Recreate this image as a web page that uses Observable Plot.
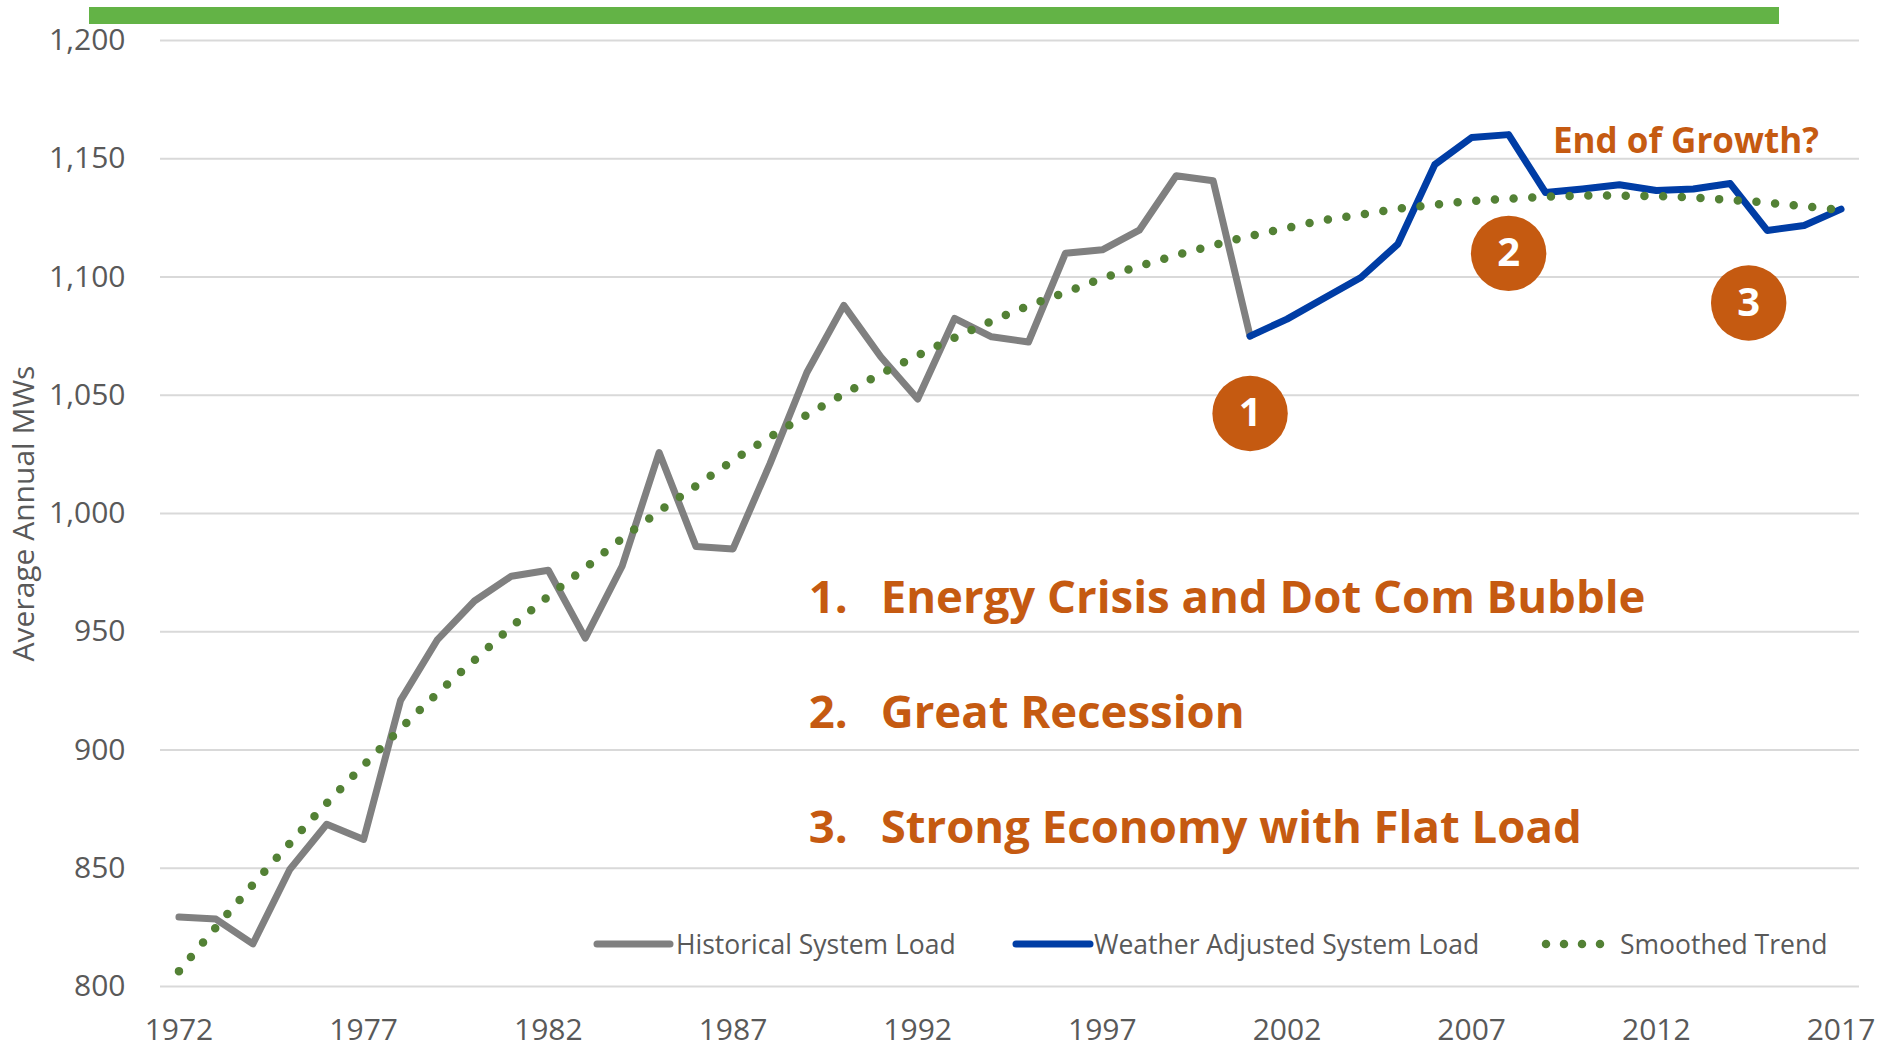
<!DOCTYPE html>
<html>
<head>
<meta charset="utf-8">
<script src="https://cdn.jsdelivr.net/npm/d3@7"></script>
<script src="https://cdn.jsdelivr.net/npm/@observablehq/plot@0.6"></script>
<style>
  html, body { margin: 0; padding: 0; background: #ffffff; }
  #wrap { position: relative; width: 1881px; height: 1050px; font-family: "Open Sans", sans-serif; overflow: hidden; }
  #band { position: absolute; left: 89px; top: 7px; width: 1690px; height: 17px; background: #63b346; }
  #legend { position: absolute; left: 0; top: 0; }
</style>
</head>
<body>
<div id="wrap">
  <div id="chart"></div>
  <div id="band"></div>
  <svg id="legend" width="1881" height="1050"></svg>
</div>
<script>
// ---------- data ----------
const years = [1972,1973,1974,1975,1976,1977,1978,1979,1980,1981,1982,1983,1984,1985,1986,1987,1988,1989,1990,1991,1992,1993,1994,1995,1996,1997,1998,1999,2000,2001,2002,2003,2004,2005,2006,2007,2008,2009,2010,2011,2012,2013,2014,2015,2016,2017];

const historicalYears = [1972,1973,1974,1975,1976,1977,1978,1979,1980,1981,1982,1983,1984,1985,1986,1987,1988,1989,1990,1991,1992,1993,1994,1995,1996,1997,1998,1999,2000,2001];
const historicalLoad = [829.4,828.5,818,849.5,868.6,862.2,921,946.7,963,973.5,976,947.3,977.8,1025.8,986,985,1021,1059.6,1088,1066.3,1048.4,1082.5,1074.7,1072.5,1110,1111.5,1119.8,1142.8,1140.7,1075];

const adjustedYears = [2001,2002,2003,2004,2005,2006,2007,2008,2009,2010,2011,2012,2013,2014,2015,2016,2017];
const adjustedLoad = [1075,1082.2,1091,1099.8,1113.9,1147.5,1159,1160.2,1135.7,1137.2,1139,1136.6,1137.2,1139.5,1119.7,1121.8,1128.7];

const smoothedTrend = [806.5,825,843,860.5,877.5,893.5,909,924,938,952,965,977,989.5,1000.9,1011.7,1022.4,1032.3,1041.7,1050.5,1059,1066.8,1074.3,1081.3,1087.8,1093.5,1099.4,1104.6,1109.2,1113.4,1117.3,1120.7,1124,1126.4,1128.8,1130.6,1132.1,1133.1,1133.9,1134.4,1134.4,1134.2,1133.6,1132.6,1131.4,1129.9,1128.3];

const yTicks = [800,850,900,950,1000,1050,1100,1150,1200];
const xTicks = [1972,1977,1982,1987,1992,1997,2002,2007,2012,2017];

const seriesNames = ["Historical System Load", "Weather Adjusted System Load", "Smoothed Trend"];
const yAxisTitle = "Average Annual MWs";

// annotation callouts (numbered circles)
const calloutLabels = ["1", "2", "3"];
const calloutYears = [2001, 2008, 2014.5];
const calloutValues = [1042.3, 1110, 1089];

const headline = "End of Growth?";
const headlineYear = 2009.2;
const headlineValue = 1157.3;

const listNumbers = ["1.", "2.", "3."];
const listTexts = ["Energy Crisis and Dot Com Bubble", "Great Recession", "Strong Economy with Flat Load"];
const listValues = [964, 915.4, 866.8];
const listNumberYear = 1989.05;
const listTextYear = 1991.0;

// ---------- rows ----------
const histRows = historicalYears.map((d, i) => ({year: d, value: historicalLoad[i]}));
const adjRows = adjustedYears.map((d, i) => ({year: d, value: adjustedLoad[i]}));
const trendRows = years.map((d, i) => ({year: d, value: smoothedTrend[i]}));
const callouts = calloutLabels.map((t, i) => ({label: t, year: calloutYears[i], value: calloutValues[i]}));
const listRows = listTexts.map((t, i) => ({num: listNumbers[i], text: t, value: listValues[i]}));

const ORANGE = "#C55A11";
const GRAY_TXT = "#595959";

const chart = Plot.plot({
  width: 1881,
  height: 1050,
  marginLeft: 160,
  marginRight: 22,
  marginTop: 40,
  marginBottom: 64,
  style: {fontFamily: "'Open Sans', sans-serif", background: "transparent", overflow: "visible"},
  x: {type: "linear", domain: [1971.5, 2017.5]},
  y: {domain: [800, 1200]},
  marks: [
    Plot.gridY(yTicks, {stroke: "#d9d9d9", strokeOpacity: 1, strokeWidth: 2}),
    Plot.axisY(yTicks, {tickSize: 0, tickPadding: 35, tickFormat: d3.format(","), fontSize: 30, fill: GRAY_TXT, label: null}),
    Plot.axisX(xTicks, {tickSize: 0, tickPadding: 32, tickFormat: d => String(d), fontSize: 30, fill: GRAY_TXT, label: null}),
    Plot.text([yAxisTitle], {frameAnchor: "left", textAnchor: "middle", dx: -136, rotate: -90, fontSize: 30, fill: GRAY_TXT}),
    Plot.line(histRows, {x: "year", y: "value", stroke: "#808080", strokeWidth: 7, strokeLinejoin: "round", strokeLinecap: "round"}),
    Plot.line(adjRows, {x: "year", y: "value", stroke: "#003DA5", strokeWidth: 7, strokeLinejoin: "round", strokeLinecap: "round"}),
    Plot.line(trendRows, {x: "year", y: "value", stroke: "#538135", strokeWidth: 8.5, strokeDasharray: "0 18.7", strokeLinecap: "round", curve: "catmull-rom"}),
    Plot.dot(callouts, {x: "year", y: "value", r: 37.7, fill: ORANGE, stroke: null}),
    Plot.text(callouts, {x: "year", y: "value", text: "label", fill: "white", fontWeight: "bold", fontSize: 40}),
    Plot.text([headline], {x: () => headlineYear, y: () => headlineValue, text: d => d, textAnchor: "start", fill: ORANGE, fontWeight: "bold", fontSize: 35}),
    Plot.text(listRows, {x: () => listNumberYear, y: "value", text: "num", textAnchor: "start", fill: ORANGE, fontWeight: "bold", fontSize: 45.5}),
    Plot.text(listRows, {x: () => listTextYear, y: "value", text: "text", textAnchor: "start", fill: ORANGE, fontWeight: "bold", fontSize: 45.5})
  ]
});
document.getElementById("chart").appendChild(chart);

// ---------- legend (inside the plot area, bottom) ----------
const leg = d3.select("#legend");
const legY = 944;
const base = 953.8;
const legFont = 26.5;
// item 1
leg.append("line").attr("x1", 597).attr("x2", 670).attr("y1", legY).attr("y2", legY)
  .attr("stroke", "#808080").attr("stroke-width", 7).attr("stroke-linecap", "round");
leg.append("text").attr("x", 676).attr("y", base).attr("font-size", legFont).attr("fill", GRAY_TXT)
  .attr("font-family", "'Open Sans', sans-serif").text(seriesNames[0]);
// item 2
leg.append("line").attr("x1", 1016).attr("x2", 1090).attr("y1", legY).attr("y2", legY)
  .attr("stroke", "#003DA5").attr("stroke-width", 7).attr("stroke-linecap", "round");
leg.append("text").attr("x", 1094).attr("y", base).attr("font-size", legFont).attr("fill", GRAY_TXT)
  .attr("font-family", "'Open Sans', sans-serif").text(seriesNames[1]);
// item 3
leg.append("line").attr("x1", 1546).attr("x2", 1601).attr("y1", legY).attr("y2", legY)
  .attr("stroke", "#538135").attr("stroke-width", 8.5).attr("stroke-linecap", "round").attr("stroke-dasharray", "0 18");
leg.append("text").attr("x", 1620).attr("y", base).attr("font-size", legFont).attr("fill", GRAY_TXT)
  .attr("font-family", "'Open Sans', sans-serif").text(seriesNames[2]);
</script>
</body>
</html>
